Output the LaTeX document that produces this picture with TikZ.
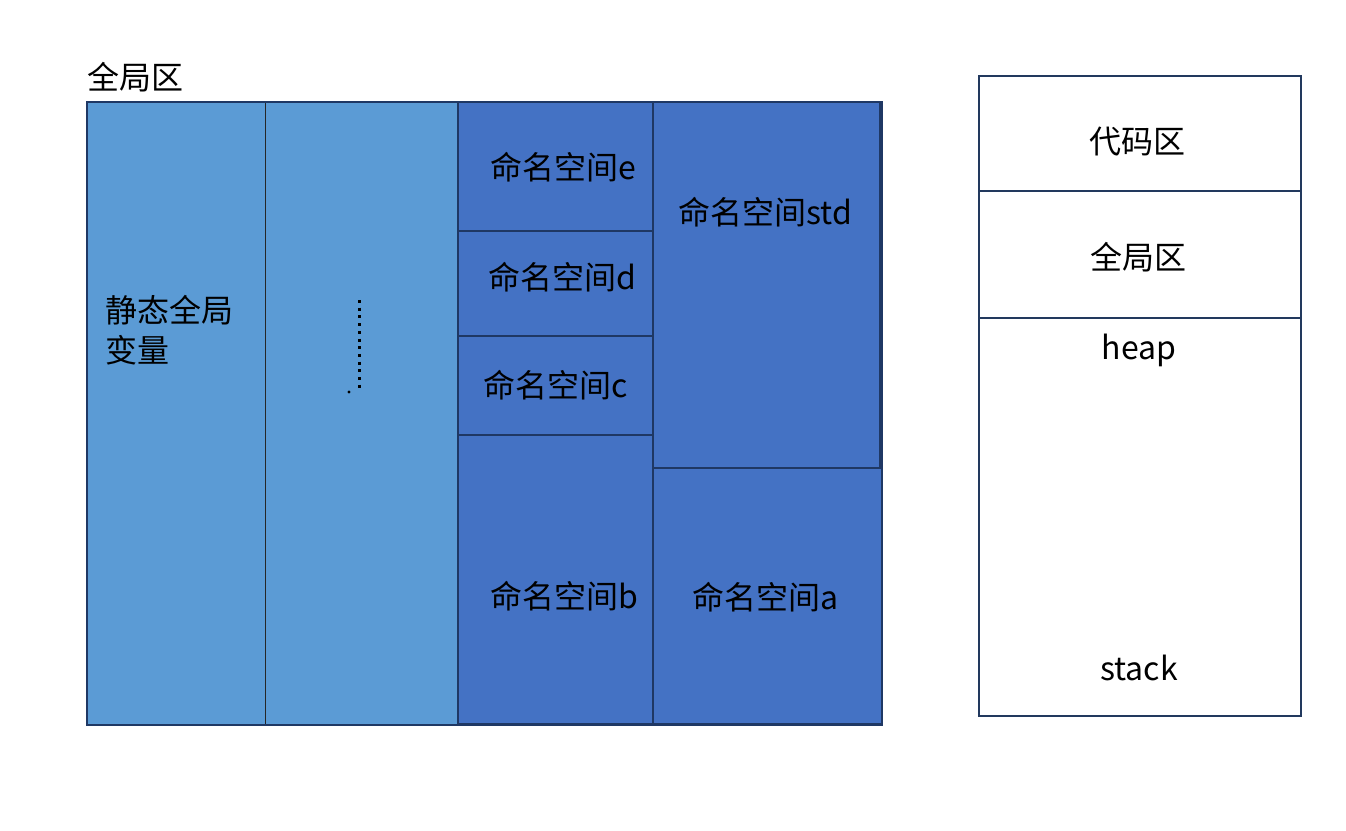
\documentclass[tikz,border=0pt]{standalone}
\usepackage{fontspec}
\setmainfont{Noto Sans CJK SC}
\definecolor{lightblue}{HTML}{5B9BD5}
\definecolor{darkblue}{HTML}{4472C4}
\definecolor{navy}{HTML}{1F3864}
\definecolor{rnavy}{HTML}{22395E}
\newcommand\zone[6]{\node[#2,anchor=north west,minimum width={(#5)-(#4)},minimum height={(#6)-(#3)}] (#1) at (#4,#3) {};}
\begin{document}
\begin{tikzpicture}[x=1pt,y=-1pt,
  base/.style={inner sep=0pt,outer sep=0pt,rectangle},
  lightbox/.style={base,fill=lightblue,draw=black!85,line width=1pt},
  darkbox/.style={base,fill=darkblue,draw=navy,line width=1.8pt},
  membox/.style={base,fill=white,draw=rnavy,line width=2pt},
  lbl/.style={font=\fontsize{32}{40}\selectfont,text=black,inner sep=0pt}]
\useasboundingbox (0,0) rectangle (1346,830);
% left region: zone{name}{style}{top}{left}{right}{bottom}
\zone{c1}{lightbox}{102}{87}{265}{725}
\zone{c2}{lightbox}{102}{265}{458}{725}
\zone{ne}{darkbox}{102}{458}{653}{231}
\zone{nd}{darkbox}{231}{458}{653}{336}
\zone{nc}{darkbox}{336}{458}{653}{435}
\zone{nb}{darkbox}{435}{458}{653}{724}
\zone{nstd}{darkbox}{102}{653}{880}{468}
\zone{na}{darkbox}{468}{653}{882}{724}
\node[base,draw=navy,line width=2.4pt,anchor=north west,minimum width=795,minimum height=623] (outer) at (87,102) {};
% dotted line
\coordinate (dtop) at (359,300);
\coordinate (dbot) at (359,388);
\coordinate (dleft) at (349,392);
\draw[line width=3pt,dash pattern=on 3pt off 4.7pt] (dtop) -- (dbot);
\fill (dleft) circle[radius=1.6pt];
% labels left
\node[lbl,anchor=west] (title) at (87,77) {全局区};
\node[lbl,anchor=west,align=left] (static) at (105,330) {静态全局\\变量};
\node[lbl] (te) at (563,167) {命名空间e};
\node[lbl] (td) at (562,277) {命名空间d};
\node[lbl] (tc) at (556,385) {命名空间c};
\node[lbl] (tb) at (564,596) {命名空间b};
\node[lbl] (tstd) at (765,212) {命名空间std};
\node[lbl] (ta) at (765,597) {命名空间a};
% right region
\zone{code}{membox}{76}{979}{1301}{191}
\zone{glob}{membox}{191}{979}{1301}{318}
\zone{heapstack}{membox}{318}{979}{1301}{716}
\node[lbl] (tcode) at (1137,142) {代码区};
\node[lbl] (tglob) at (1138,257) {全局区};
\node[lbl] (theap) at (1139,350) {heap};
\node[lbl] (tstack) at (1139,668) {stack};
\end{tikzpicture}
\end{document}
